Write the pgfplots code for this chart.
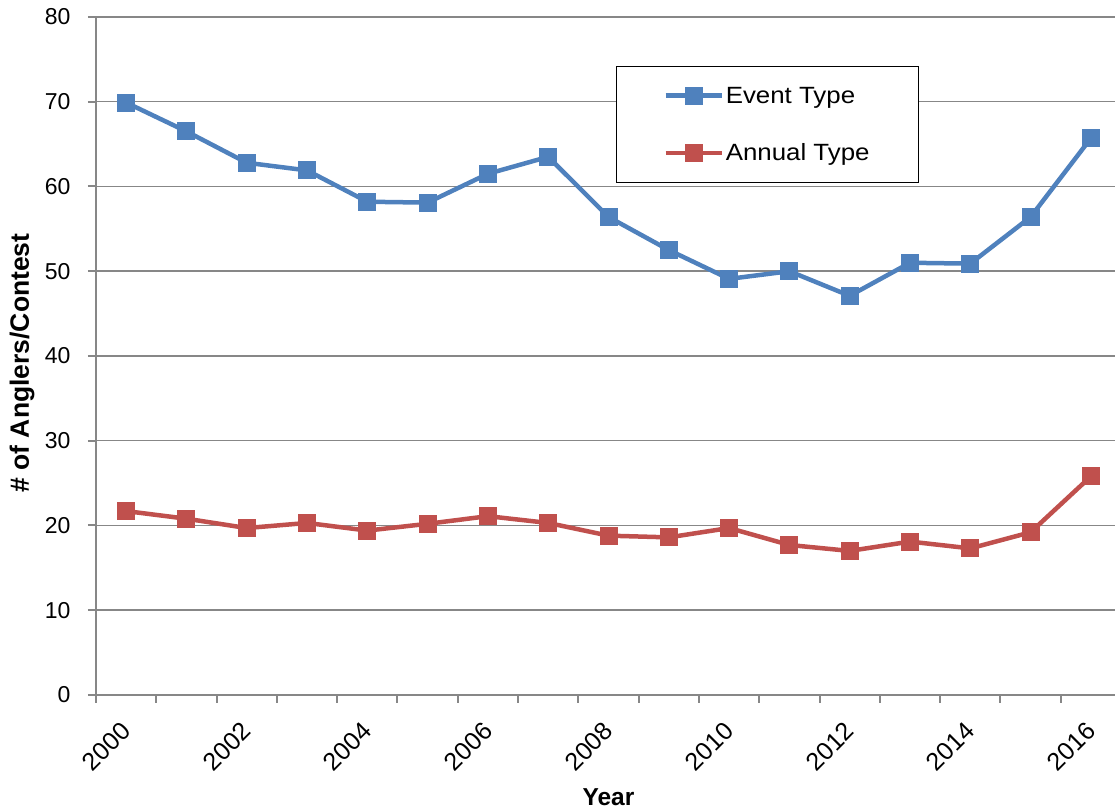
\documentclass[border=0pt]{standalone}
\usepackage{fontspec}
\setmainfont{Liberation Sans}
\newfontfamily\legfont{Liberation Sans}[FakeStretch=1.1]
\usepackage{pgfplots}
\pgfplotsset{compat=1.18}
\definecolor{eventblue}{HTML}{4F81BD}
\definecolor{annualred}{HTML}{C0504D}
\definecolor{gridgray}{HTML}{878787}

\begin{document}
\begin{tikzpicture}
\begin{axis}[
  name=ax,
  scale only axis,
  width=1019pt, height=678pt,
  xmin=-0.5, xmax=16.4,
  ymin=0, ymax=80,
  ytick={0,10,...,80},
  xtick={-0.5,0.5,...,15.5},
  xticklabels={},
  extra x ticks={0,2,4,6,8,10,12,14,16},
  extra x tick labels={2000,2002,2004,2006,2008,2010,2012,2014,2016},
  extra x tick style={major tick length=0pt,
    xticklabel style={font=\fontsize{25}{29}\selectfont, rotate=45, anchor=north east, xshift=-19pt, yshift=-10pt}},
  ymajorgrids,
  grid style={gridgray, line width=1.5pt},
  axis x line*=bottom, axis y line*=left,
  axis line style={gridgray, line width=2pt, -},
  tick align=outside,
  major tick length=8pt,
  every tick/.style={gridgray, line width=2pt},
  /pgf/number format/assume math mode=true,
  ticklabel style={font=\fontsize{23}{27}\selectfont, text=black},
  yticklabel style={xshift=-14pt},
  xlabel={Year},
  ylabel={\# of Anglers/Contest},
  xlabel style={at={([xshift=3pt,yshift=-102pt]axis description cs:0.5,0)}, anchor=center, font=\fontsize{24.5}{28}\selectfont\bfseries},
  ylabel style={at={([xshift=-74pt,yshift=-7pt]axis description cs:0,0.5)}, anchor=center, font=\fontsize{26.5}{30}\selectfont\bfseries},
  legend style={at={(0.510,0.928)}, anchor=north west, draw=black, line width=1.2pt,
    font=\legfont\fontsize{23.5}{27}\selectfont, inner xsep=47pt, inner ysep=18.5pt, row sep=35pt,
    legend cell align=left},
  legend image code/.code={\draw[mark repeat=2,mark phase=2] plot coordinates {(0pt,0pt) (28pt,0pt) (56pt,0pt)};},
  every axis plot/.append style={line width=4.5pt, mark=square*, mark size=8.5pt, mark options={solid, line width=0pt}},
]
\addplot[color=eventblue] coordinates {
(0,69.9) (1,66.5) (2,62.8) (3,61.9) (4,58.2) (5,58.1) (6,61.5) (7,63.5) (8,56.4)
(9,52.5) (10,49.1) (11,50.0) (12,47.1) (13,51.0) (14,50.9) (15,56.4) (16,65.7)};
\addlegendentry{Event Type}
\addplot[color=annualred] coordinates {
(0,21.7) (1,20.8) (2,19.7) (3,20.3) (4,19.4) (5,20.2) (6,21.1) (7,20.3) (8,18.8)
(9,18.6) (10,19.7) (11,17.7) (12,17.0) (13,18.1) (14,17.3) (15,19.2) (16,25.8)};
\addlegendentry{Annual Type}
\end{axis}
\pgfresetboundingbox
\useasboundingbox ([shift={(-96pt,-116pt)}]ax.south west) rectangle ([shift={(0pt,17pt)}]ax.north east);
\end{tikzpicture}
\end{document}
